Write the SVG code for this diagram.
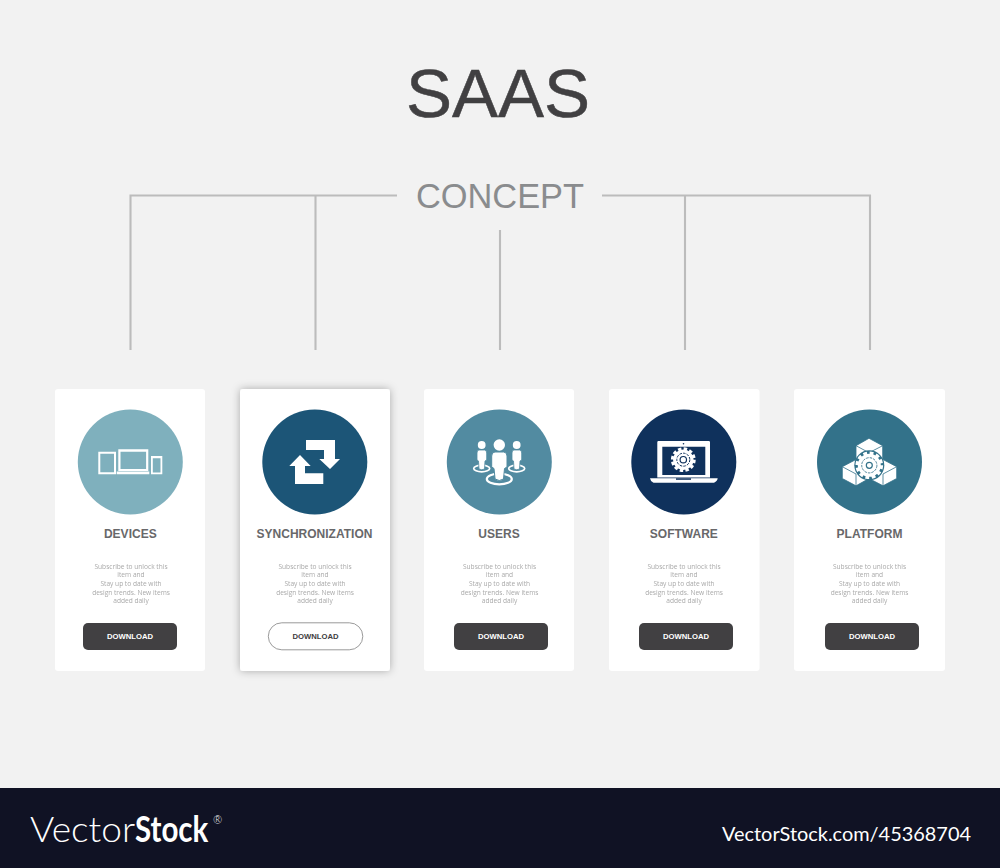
<svg xmlns="http://www.w3.org/2000/svg" width="1000" height="868" viewBox="0 0 1000 868">
<style>
.line{stroke:#bcbcbc;stroke-width:2.1;fill:none}
.card{fill:#fff}
.lbl{font:bold 12px "Liberation Sans",Arial,sans-serif;fill:#68686a;text-anchor:middle}
.body{font:6.6px "Open Sans","Liberation Sans",sans-serif;fill:#a8a8a8;text-anchor:middle;opacity:.99}
.dl{font:bold 7.7px "Liberation Sans",Arial,sans-serif;text-anchor:middle;fill:#fff}
.btn{fill:#414042}
.w{fill:#fff}
.foot{font-family:Lato,"Liberation Sans",sans-serif;fill:#fff}
</style>
<defs>
<filter id="sh" x="-20%" y="-20%" width="140%" height="140%"><feDropShadow dx="0" dy="0" stdDeviation="4" flood-color="#000" flood-opacity=".3"/></filter>
</defs>
<rect width="1000" height="868" fill="#f2f2f2"/>
<text x="498" y="117" text-anchor="middle" font-family="Liberation Sans,Arial,sans-serif" font-size="69" fill="#414042" stroke="#414042" stroke-width=".5">SAAS</text>
<text x="500" y="208" text-anchor="middle" font-family="Liberation Sans,Arial,sans-serif" font-size="34.4" fill="#8a8c8e">CONCEPT</text>
<g id="connectors">
<path class="line" d="M397 195.500H130.500V350M315.500 195.500V350"/>
<path class="line" d="M500 230V350"/>
<path class="line" d="M602 195.500H870V350M685 195.500V350"/>
</g>
<g id="devices">
<rect class="card" x="55" y="389" width="150" height="282" rx="3"/>
<circle cx="130.300" cy="462" r="52.500" fill="#7fb0bd"/>
<path class="w" fill-rule="evenodd" d="M98.300 451.700H116V474.300H98.300ZM100.300 453.800V472.300H114V453.800Z"/>
<path class="w" fill-rule="evenodd" d="M118.300 449.300H148.300V471H118.300ZM120.500 451.800V469H146.100V451.800Z"/>
<path class="w" d="M116.700 471.600H149.300V474.300H116.700Z"/>
<path class="w" fill-rule="evenodd" d="M151 456H162.300V474.300H151ZM152.800 458.300V472.500H160.500V458.300Z"/>
<text class="lbl" x="130.300" y="537.500">DEVICES</text>
<text class="body"><tspan x="131" y="568.500">Subscribe to unlock this</tspan><tspan x="131" y="577.200">item and</tspan><tspan x="131" y="585.900">Stay up to date with</tspan><tspan x="131" y="594.500">design trends. New items</tspan><tspan x="131" y="603.200">added daily</tspan></text>
<rect class="btn" x="83" y="623" width="94" height="27" rx="5"/>
<text class="dl" x="130" y="638.800">DOWNLOAD</text>
</g>
<g id="synchronization">
<rect class="card" x="240" y="389" width="150" height="282" rx="3" filter="url(#sh)"/>
<circle cx="314.800" cy="462" r="52.500" fill="#1c5577"/>
<path class="w" d="M300 455L310.700 466H305V473.300H323.300V484H295V466H289.300Z"/>
<path class="w" d="M306 440H335V459H340L330 469L319.300 459H324V450H306Z"/>
<text class="lbl" x="314.500" y="537.500">SYNCHRONIZATION</text>
<text class="body"><tspan x="315" y="568.500">Subscribe to unlock this</tspan><tspan x="315" y="577.200">item and</tspan><tspan x="315" y="585.900">Stay up to date with</tspan><tspan x="315" y="594.500">design trends. New items</tspan><tspan x="315" y="603.200">added daily</tspan></text>
<rect x="268.300" y="622.800" width="94.500" height="27" rx="13.500" fill="#fff" stroke="#808080" stroke-width=".8"/>
<text class="dl" x="315.500" y="638.800" style="fill:#414042">DOWNLOAD</text>
</g>
<g id="users">
<rect class="card" x="424" y="389" width="150" height="282" rx="3"/>
<circle cx="499.300" cy="462" r="52.500" fill="#528ba1"/>
<g fill="none" stroke="#fff">
<ellipse cx="499.300" cy="479" rx="12.500" ry="5.400" stroke-width="2.200"/>
<ellipse cx="481.700" cy="468.500" rx="8" ry="3.300" stroke-width="1.700"/>
<ellipse cx="516.700" cy="468.500" rx="8" ry="3.300" stroke-width="1.700"/>
</g>
<circle class="w" cx="499.300" cy="445" r="5.700"/><circle class="w" cx="481.700" cy="445" r="3.900"/><circle class="w" cx="516.700" cy="445" r="3.900"/>
<path class="w" d="M495 452H503.600Q507 452 507 456V467L504.500 468.500L503.500 479Q499.300 482 495.100 479L494 468.500L491.700 467V456Q491.700 452 495 452Z" stroke="#528ba1" stroke-width="1"/>
<path class="w" d="M479 450H484.500Q486.700 450 486.700 453V460L485 461L484.500 469Q481.700 470.500 479 469L478.500 461L477 460V453Q477 450 479 450Z" stroke="#528ba1" stroke-width=".8"/>
<path class="w" d="M514 450H519.500Q521.700 450 521.700 453V460L520 461L519.500 469Q516.700 470.500 514 469L513.500 461L512 460V453Q512 450 514 450Z" stroke="#528ba1" stroke-width=".8"/>
<text class="lbl" x="499" y="537.500">USERS</text>
<text class="body"><tspan x="499.500" y="568.500">Subscribe to unlock this</tspan><tspan x="499.500" y="577.200">item and</tspan><tspan x="499.500" y="585.900">Stay up to date with</tspan><tspan x="499.500" y="594.500">design trends. New items</tspan><tspan x="499.500" y="603.200">added daily</tspan></text>
<rect class="btn" x="454" y="623" width="94" height="27" rx="5"/>
<text class="dl" x="501" y="638.800">DOWNLOAD</text>
</g>
<g id="software">
<rect class="card" x="609" y="389" width="150.500" height="282" rx="3"/>
<circle cx="683.800" cy="462" r="52.500" fill="#0f315c"/>
<path class="w" fill-rule="evenodd" d="M658.500 441H708.800Q710 441 710 442.200V477.500H657.300V442.200Q657.300 441 658.500 441ZM662.300 446.700V475H705.300V446.700Z"/>
<path class="w" d="M650 478.300H717.700Q717.500 481 714 482.700H653.500Q650.200 481 650 478.300Z"/>
<rect x="676" y="478.300" width="15" height="1.500" fill="#0f315c"/>
<circle cx="683.500" cy="443.700" r=".8" fill="#0f315c"/>
<circle cx="683.300" cy="459.700" r="10.300" fill="#fff"/>
<circle cx="683.300" cy="459.700" r="10.800" fill="none" stroke="#fff" stroke-width="3.200" stroke-dasharray="3.400 2.260"/>
<circle cx="683.300" cy="459.700" r="6.500" fill="none" stroke="#0f315c" stroke-width="1" stroke-dasharray="2.500 1.200"/>
<circle cx="683.300" cy="459.700" r="3.200" fill="none" stroke="#0f315c" stroke-width="1.200"/>
<text class="lbl" x="683.800" y="537.500">SOFTWARE</text>
<text class="body"><tspan x="684" y="568.500">Subscribe to unlock this</tspan><tspan x="684" y="577.200">item and</tspan><tspan x="684" y="585.900">Stay up to date with</tspan><tspan x="684" y="594.500">design trends. New items</tspan><tspan x="684" y="603.200">added daily</tspan></text>
<rect class="btn" x="639" y="623" width="94" height="27" rx="5"/>
<text class="dl" x="686" y="638.800">DOWNLOAD</text>
</g>
<g id="platform">
<rect class="card" x="794" y="389" width="151" height="282" rx="3"/>
<circle cx="869.500" cy="462" r="52.500" fill="#33728a"/>
<path class="w" stroke="#33728a" stroke-width=".8" d="M869 438.300L882.700 445.700V462L869 469L856 462V445.700Z"/>
<path class="w" stroke="#33728a" stroke-width=".8" d="M842.300 466.700L856 459.500L869 466.500V478.500L856 485.800L842.300 478.500Z"/>
<path class="w" stroke="#33728a" stroke-width=".8" d="M896.700 466.700L883 459.500L869 466.500V478.500L883 485.800L896.700 478.500Z"/>
<path fill="none" stroke="#33728a" stroke-width=".8" d="M856 445.700L869 452.700L882.700 445.700M842.300 466.700L856 474V485.800M896.700 466.700L883 474V485.800"/>
<circle cx="869.300" cy="465.300" r="15" fill="#33728a"/>
<circle cx="869.300" cy="465.300" r="11.500" fill="#fff"/>
<circle cx="869.300" cy="465.300" r="12.300" fill="none" stroke="#fff" stroke-width="3" stroke-dasharray="3.800 2.640"/>
<circle cx="869.300" cy="465.300" r="7.600" fill="none" stroke="#33728a" stroke-width=".9" stroke-dasharray="2.500 1.100"/>
<circle cx="869.300" cy="465.300" r="3" fill="none" stroke="#33728a" stroke-width="1.200"/>
<text class="lbl" x="869.500" y="537.500">PLATFORM</text>
<text class="body"><tspan x="869.500" y="568.500">Subscribe to unlock this</tspan><tspan x="869.500" y="577.200">item and</tspan><tspan x="869.500" y="585.900">Stay up to date with</tspan><tspan x="869.500" y="594.500">design trends. New items</tspan><tspan x="869.500" y="603.200">added daily</tspan></text>
<rect class="btn" x="825" y="623" width="94" height="27" rx="5"/>
<text class="dl" x="872" y="638.800">DOWNLOAD</text>
</g>
<g id="footer">
<rect y="788" width="1000" height="80" fill="#101224"/>
<text class="foot" x="30" y="842" font-size="36" font-weight="300" textLength="105" lengthAdjust="spacingAndGlyphs">Vector</text>
<text class="foot" transform="translate(135 842) scale(.82 1)" font-size="36" font-weight="700">Stock</text>
<text class="foot" x="213" y="824" font-size="11" font-weight="300">®</text>
<text class="foot" x="722" y="841" font-size="19.500" textLength="249" lengthAdjust="spacingAndGlyphs">VectorStock.com/45368704</text>
</g>
</svg>
